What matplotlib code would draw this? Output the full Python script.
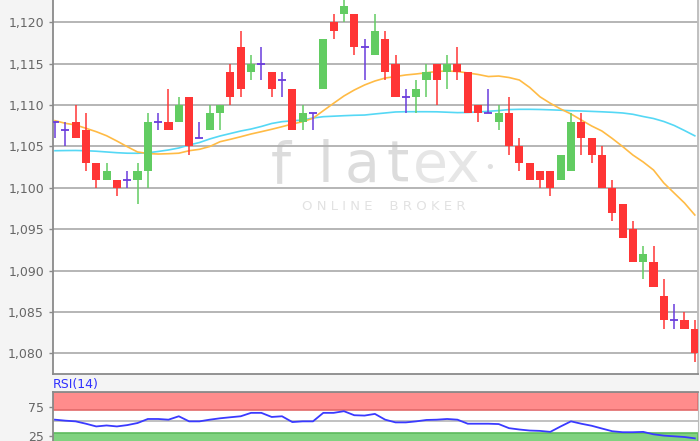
import matplotlib
matplotlib.use('Agg')
import numpy as np
import matplotlib.pyplot as plt

# daily candles (open, high, low, close)
opens = [1.108, 1.107, 1.108, 1.107, 1.103, 1.101, 1.101, 1.101, 1.101, 1.102,
         1.108, 1.108, 1.108, 1.111, 1.106, 1.107, 1.109, 1.114, 1.117, 1.114,
         1.115, 1.114, 1.113, 1.112, 1.108, 1.109, 1.112, 1.120, 1.121, 1.121,
         1.117, 1.116, 1.118, 1.115, 1.111, 1.111, 1.113, 1.115, 1.114, 1.115,
         1.114, 1.110, 1.109, 1.108, 1.109, 1.105, 1.103, 1.102, 1.102, 1.101,
         1.102, 1.108, 1.106, 1.104, 1.100, 1.098, 1.095, 1.091, 1.091, 1.087,
         1.084, 1.084, 1.083]
highs = [1.108, 1.108, 1.110, 1.109, 1.103, 1.103, 1.101, 1.102, 1.103, 1.109,
         1.109, 1.112, 1.111, 1.111, 1.108, 1.110, 1.110, 1.115, 1.119, 1.116,
         1.117, 1.114, 1.114, 1.112, 1.110, 1.109, 1.118, 1.121, 1.123, 1.121,
         1.118, 1.121, 1.119, 1.116, 1.112, 1.113, 1.115, 1.115, 1.116, 1.117,
         1.114, 1.110, 1.112, 1.110, 1.111, 1.106, 1.103, 1.102, 1.102, 1.104,
         1.109, 1.109, 1.106, 1.105, 1.101, 1.098, 1.096, 1.093, 1.093, 1.089,
         1.086, 1.085, 1.084]
lows = [1.106, 1.105, 1.106, 1.102, 1.100, 1.101, 1.099, 1.100, 1.098, 1.100,
        1.107, 1.107, 1.108, 1.104, 1.106, 1.107, 1.107, 1.110, 1.111, 1.113,
        1.113, 1.111, 1.111, 1.107, 1.107, 1.107, 1.112, 1.118, 1.120, 1.116,
        1.113, 1.116, 1.113, 1.111, 1.109, 1.109, 1.111, 1.110, 1.112, 1.113,
        1.109, 1.108, 1.109, 1.107, 1.104, 1.102, 1.101, 1.100, 1.099, 1.101,
        1.102, 1.104, 1.103, 1.100, 1.096, 1.094, 1.091, 1.089, 1.088, 1.083,
        1.083, 1.083, 1.079]
closes = [1.108, 1.107, 1.106, 1.103, 1.101, 1.102, 1.100, 1.101, 1.102, 1.108,
          1.108, 1.107, 1.110, 1.105, 1.106, 1.109, 1.110, 1.111, 1.112, 1.115,
          1.115, 1.112, 1.113, 1.107, 1.109, 1.109, 1.118, 1.119, 1.122, 1.117,
          1.117, 1.119, 1.114, 1.111, 1.111, 1.112, 1.114, 1.113, 1.115, 1.114,
          1.109, 1.109, 1.109, 1.109, 1.105, 1.103, 1.101, 1.101, 1.100, 1.104,
          1.108, 1.106, 1.104, 1.100, 1.097, 1.094, 1.091, 1.092, 1.088, 1.084,
          1.084, 1.083, 1.080]

# moving averages
ma_fast = [1.10812, 1.10780, 1.10760, 1.10720, 1.10679, 1.10630, 1.10566, 1.10498, 1.10434, 1.10415,
           1.10409, 1.10413, 1.10419, 1.10449, 1.10466, 1.10500, 1.10558, 1.10587, 1.10618, 1.10651,
           1.10679, 1.10708, 1.10739, 1.10772, 1.10800, 1.10841, 1.10932, 1.11022, 1.11110, 1.11182,
           1.11243, 1.11291, 1.11327, 1.11345, 1.11364, 1.11376, 1.11391, 1.11406, 1.11412, 1.11406,
           1.11388, 1.11370, 1.11345, 1.11351, 1.11333, 1.11303, 1.11213, 1.11100, 1.11022, 1.10953,
           1.10893, 1.10820, 1.10748, 1.10687, 1.10597, 1.10500, 1.10397, 1.10313, 1.10216, 1.10059,
           1.09938, 1.09818, 1.09673]
ma_slow = [1.10449, 1.10451, 1.10452, 1.10449, 1.10443, 1.10434, 1.10425, 1.10419, 1.10418, 1.10424,
           1.10440, 1.10458, 1.10482, 1.10518, 1.10548, 1.10591, 1.10627, 1.10657, 1.10687, 1.10711,
           1.10742, 1.10778, 1.10800, 1.10810, 1.10820, 1.10844, 1.10860, 1.10866, 1.10872, 1.10877,
           1.10880, 1.10893, 1.10905, 1.10917, 1.10920, 1.10920, 1.10920, 1.10919, 1.10914, 1.10909,
           1.10911, 1.10917, 1.10925, 1.10934, 1.10946, 1.10949, 1.10949, 1.10947, 1.10943, 1.10938,
           1.10932, 1.10929, 1.10924, 1.10919, 1.10913, 1.10905, 1.10889, 1.10862, 1.10838, 1.10802,
           1.10754, 1.10693, 1.10629]

rsi = [52.9, 51.2, 50.0, 45.9, 41.2, 42.9, 41.2, 43.5, 47.1, 54.1,
       54.1, 52.9, 58.8, 50.0, 50.0, 52.9, 55.3, 57.1, 58.8, 64.7,
       64.7, 57.6, 58.8, 48.8, 50.0, 50.0, 64.7, 64.7, 67.6, 60.6,
       60.0, 62.9, 52.9, 48.2, 48.2, 50.0, 52.4, 52.9, 54.1, 52.9,
       45.9, 45.9, 45.9, 45.3, 38.2, 35.9, 34.1, 33.5, 31.8, 41.2,
       50.0, 45.9, 42.4, 37.6, 32.9, 31.2, 31.2, 31.8, 27.6, 25.3,
       24.1, 22.9, 20.6]

price_ticks = [1.080, 1.085, 1.090, 1.095, 1.100, 1.105, 1.110, 1.115, 1.120]
price_labels = ['1,080', '1,085', '1,090', '1,095', '1,100', '1,105', '1,110', '1,115', '1,120']
rsi_ticks = [25, 75]
rsi_labels = ['25', '75']

UP = '#62cc62'
DOWN = '#ff3535'
DOJI = '#6a3cdc'
BG = '#f4f4f4'
TXT = '#666666'
SPINE = '#8a8a8a'

fig = plt.figure(figsize=(7.0, 4.41), dpi=100, facecolor=BG)
ax = fig.add_axes([53/700, 67/441, 645/700, 374/441])
ax.set_facecolor('white')

x = np.arange(len(opens))
o = np.array(opens); h = np.array(highs); l = np.array(lows); c = np.array(closes)

colors = np.where(c > o, UP, np.where(c < o, DOWN, DOJI))
ax.plot(x, ma_slow, color='#55d8f5', lw=1.2, zorder=2)
ax.plot(x, ma_fast, color='#ffbb45', lw=1.2, zorder=2)
ax.vlines(x, l, h, colors=colors, lw=1.1, zorder=3)
body = c != o
ax.bar(x[body], (c - o)[body], bottom=o[body], width=0.78,
       color=colors[body], lw=0, zorder=4)
doji = ~body
ax.hlines(o[doji], x[doji] - 0.39, x[doji] + 0.39, colors=DOJI, lw=1.3, zorder=4)

ax.set_xlim(-0.19, 62.31)
ax.set_ylim(1.077524, 1.122693)
ax.set_yticks(price_ticks)
ax.set_yticklabels(price_labels)
ax.set_xticks([])
ax.grid(axis='y', color='#b0b0b0', lw=1.3)
ax.set_axisbelow(True)
ax.tick_params(axis='y', length=3, width=1, color=SPINE, pad=3.5,
               labelsize=9, labelcolor=TXT)
for s in ['left', 'bottom', 'right']:
    ax.spines[s].set_color(SPINE)
    ax.spines[s].set_linewidth(1.3)
ax.spines['right'].set_color('#bbbbbb')
ax.spines['top'].set_visible(False)

# watermark, under the grid
ft = fig.transFigure
for ch, px in zip('flat', [281, 326, 362, 398]):
    ax.text(px/700, (441-182)/441, ch, transform=ft, fontsize=41,
            color='#dcdcdc', ha='center', va='baseline', zorder=0.1)
ax.text(447/700, (441-182)/441, 'ex', transform=ft, fontsize=41,
        color='#e6e6e6', ha='center', va='baseline', zorder=0.1)
ax.text(490/700, (441-168)/441, '\u2022', transform=ft, fontsize=13,
        color='#e0e0e0', ha='center', va='center', zorder=0.1)
ax.text(384/700, (441-206)/441, 'O N L I N E    B R O K E R', transform=ft,
        fontsize=9.5, color='#e2e2e2', ha='center', va='center', zorder=0.1)

# RSI panel
ax2 = fig.add_axes([53/700, 0, 645/700, 49/441])
ax2.set_facecolor('white')
ax2.axhspan(70, 100, fc='#ff8c8c', ec='#e26a6a', lw=1.2, zorder=1)
ax2.axhspan(0, 30, fc='#80d280', ec='#5dbb5d', lw=1.2, zorder=1)
ax2.axhline(50, color='#b0b0b0', lw=1.1, zorder=1)
ax2.plot(x, rsi, color='#3a3aff', lw=1.3, zorder=3)
ax2.set_xlim(-0.19, 62.31)
ax2.set_ylim(16, 100.8)
ax2.set_xticks([])
ax2.set_yticks(rsi_ticks)
ax2.set_yticklabels(rsi_labels)
ax2.tick_params(axis='y', length=3, width=1, color=SPINE, pad=3.5,
                labelsize=9, labelcolor=TXT)
for s in ['left', 'top']:
    ax2.spines[s].set_color(SPINE)
    ax2.spines[s].set_linewidth(1.3)
ax2.spines['right'].set_color('#bbbbbb')
ax2.spines['bottom'].set_visible(False)

fig.text(53/700, (441-391)/441, 'RSI(14)', fontsize=9, color='#3030ff',
         ha='left', va='bottom')

fig.savefig('out.png', dpi=100, facecolor=BG)
